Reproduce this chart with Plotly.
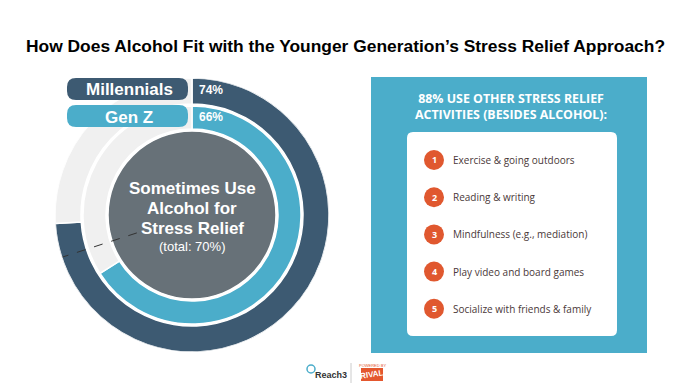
import plotly.graph_objects as go

W, H = 690, 387

# ---- data ----
groups = ["Millennials", "Gen Z"]
group_pct = [74, 66]
total_pct = 70
center_lines = ["Sometimes Use", "Alcohol for", "Stress Relief"]
panel_title = ["88% USE OTHER STRESS RELIEF", "ACTIVITIES (BESIDES ALCOHOL):"]
activities = ["Exercise & going outdoors", "Reading & writing",
              "Mindfulness (e.g., mediation)", "Play video and board games",
              "Socialize with friends & family"]
title = "How Does Alcohol Fit with the Younger Generation\u2019s Stress Relief Approach?"

# ---- styles ----
DARK = "#3d5a72"
LIGHT = "#4badca"
DISC = "#677178"
REST = "#f0f0f0"
ORANGE = "#e0582f"
ring_base = {"Millennials": 111, "Gen Z": 86}
ring_thick = {"Millennials": 26, "Gen Z": 23}
ring_col = {"Millennials": DARK, "Gen Z": LIGHT}

cx, cy, R = 192, 215, 137


def px(x):
    return x / W


def py(y):
    return 1 - y / H


fig = go.Figure()

# inner disc
fig.add_trace(go.Barpolar(r=[84], base=[0], theta=[180], width=[360],
                          marker=dict(color=DISC, line=dict(color="white", width=1.5)),
                          hoverinfo="skip", showlegend=False))
for g, p in zip(groups, group_pct):
    deg = p * 3.6
    fig.add_trace(go.Barpolar(r=[ring_thick[g]], base=[ring_base[g]],
                              theta=[deg / 2], width=[deg],
                              marker=dict(color=ring_col[g], line=dict(color="white", width=1.5)),
                              hoverinfo="skip", showlegend=False))
    fig.add_trace(go.Barpolar(r=[ring_thick[g]], base=[ring_base[g]],
                              theta=[deg + (360 - deg) / 2], width=[360 - deg],
                              marker=dict(color=REST, line=dict(color="white", width=1.5)),
                              hoverinfo="skip", showlegend=False))

# dashed total line
fig.add_trace(go.Scatterpolar(r=[58, 136], theta=[total_pct * 3.6] * 2, mode="lines",
                              line=dict(color="#333333", width=1, dash="dash"),
                              hoverinfo="skip", showlegend=False))

fig.update_layout(
    width=W, height=H, margin=dict(l=0, r=0, t=0, b=0),
    paper_bgcolor="white", plot_bgcolor="white",
    polar=dict(
        domain=dict(x=[px(cx - R), px(cx + R)], y=[py(cy + R), py(cy - R)]),
        bgcolor="rgba(0,0,0,0)", hole=0,
        radialaxis=dict(range=[0, R], visible=False),
        angularaxis=dict(rotation=90, direction="clockwise", visible=False),
        bargap=0,
    ),
)


def rrect(x0, y0, x1, y1, r):
    pts = [
        ("M", [(x0 + r, y0)]), ("L", [(x1 - r, y0)]), ("Q", [(x1, y0), (x1, y0 + r)]),
        ("L", [(x1, y1 - r)]), ("Q", [(x1, y1), (x1 - r, y1)]),
        ("L", [(x0 + r, y1)]), ("Q", [(x0, y1), (x0, y1 - r)]),
        ("L", [(x0, y0 + r)]), ("Q", [(x0, y0), (x0 + r, y0)]),
    ]
    s = ""
    for cmd, ps in pts:
        s += cmd + " ".join(f"{px(a):.5f},{py(b):.5f}" for a, b in ps) + " "
    return s + "Z"


shapes = []
anns = []

# pills
pill_y = {"Millennials": (78, 100), "Gen Z": (105, 127)}
for g, p in zip(groups, group_pct):
    y0, y1 = pill_y[g]
    shapes.append(dict(type="path", path=rrect(67, y0, 188, y1, 9), xref="paper", yref="paper",
                       fillcolor=ring_col[g], line=dict(width=0), layer="above"))
    anns.append(dict(x=px(129), y=py((y0 + y1) / 2 + 1), text=f"<b>{g}</b>", showarrow=False,
                     xref="paper", yref="paper", xanchor="center", yanchor="middle",
                     font=dict(family="Liberation Sans, Arial", size=17, color="white")))
    anns.append(dict(x=px(197), y=py((y0 + y1) / 2 + 1), text=f"<b>{p}%</b>", showarrow=False,
                     xref="paper", yref="paper", xanchor="left", yanchor="middle",
                     font=dict(family="Liberation Sans, Arial", size=12, color="white")))

# center text
for i, t in enumerate(center_lines):
    anns.append(dict(x=px(192), y=py(188 + i * 20), text=f"<b>{t}</b>", showarrow=False,
                     xref="paper", yref="paper", xanchor="center", yanchor="middle",
                     font=dict(family="Liberation Sans, Arial", size=17, color="white")))
anns.append(dict(x=px(192), y=py(246), text=f"(total: {total_pct}%)", showarrow=False,
                 xref="paper", yref="paper", xanchor="center", yanchor="middle",
                 font=dict(family="Liberation Sans, Arial", size=13, color="white")))

# title
anns.append(dict(x=px(345), y=py(46), text=f"<b>{title}</b>", showarrow=False,
                 xref="paper", yref="paper", xanchor="center", yanchor="middle",
                 font=dict(family="Liberation Sans, Arial", size=17.4, color="black")))

# right panel
shapes.append(dict(type="rect", x0=px(371), x1=px(647), y0=py(353), y1=py(77),
                   xref="paper", yref="paper", fillcolor=LIGHT, line=dict(width=0), layer="below"))
shapes.append(dict(type="path", path=rrect(407, 132, 617, 336, 6), xref="paper", yref="paper",
                   fillcolor="white", line=dict(width=0), layer="above"))
anns.append(dict(x=px(511), y=py(107), text="<br>".join(f"<b>{t}</b>" for t in panel_title),
                 showarrow=False, align="center",
                 xref="paper", yref="paper", xanchor="center", yanchor="middle",
                 font=dict(family="Open Sans", size=12.4, color="white")))
for i, t in enumerate(activities):
    yy = 160 + i * 37.2
    shapes.append(dict(type="circle", x0=px(434 - 10), x1=px(434 + 10), y0=py(yy + 10), y1=py(yy - 10),
                       xref="paper", yref="paper", fillcolor=ORANGE, line=dict(width=0), layer="above"))
    anns.append(dict(x=px(434), y=py(yy), text=f"<b>{i + 1}</b>", showarrow=False,
                     xref="paper", yref="paper", xanchor="center", yanchor="middle",
                     font=dict(family="Open Sans", size=9, color="white")))
    anns.append(dict(x=px(451), y=py(yy), text=t, showarrow=False,
                     xref="paper", yref="paper", xanchor="left", yanchor="middle",
                     font=dict(family="Open Sans", size=10, color="#4a3838")))

# logos
shapes.append(dict(type="circle", x0=px(307), x1=px(315), y0=py(373), y1=py(365),
                   xref="paper", yref="paper", line=dict(color=LIGHT, width=1.5), layer="above"))
anns.append(dict(x=px(313), y=py(375), text="<b>Reach3</b>", showarrow=False,
                 xref="paper", yref="paper", xanchor="left", yanchor="middle",
                 font=dict(family="Liberation Sans, Arial", size=9, color="#333333")))
shapes.append(dict(type="line", x0=px(351), x1=px(351), y0=py(383), y1=py(363),
                   xref="paper", yref="paper", line=dict(color="#cccccc", width=1), layer="above"))
shapes.append(dict(type="rect", x0=px(361), x1=px(383), y0=py(381), y1=py(368),
                   xref="paper", yref="paper", fillcolor="#e4572e", line=dict(width=0), layer="above"))
anns.append(dict(x=px(372), y=py(374.5), text="<b>RIVAL</b>", showarrow=False, textangle=-8,
                 xref="paper", yref="paper", xanchor="center", yanchor="middle",
                 font=dict(family="Liberation Sans, Arial", size=8, color="white")))
anns.append(dict(x=px(372), y=py(365), text="POWERED BY", showarrow=False,
                 xref="paper", yref="paper", xanchor="center", yanchor="middle",
                 font=dict(family="Liberation Sans, Arial", size=4, color="#e4572e")))

fig.update_layout(shapes=shapes, annotations=anns)
fig.write_html("out.html", config={"displayModeBar": False},
               post_script="document.body.style.margin='0px';document.body.style.overflow='hidden';")
